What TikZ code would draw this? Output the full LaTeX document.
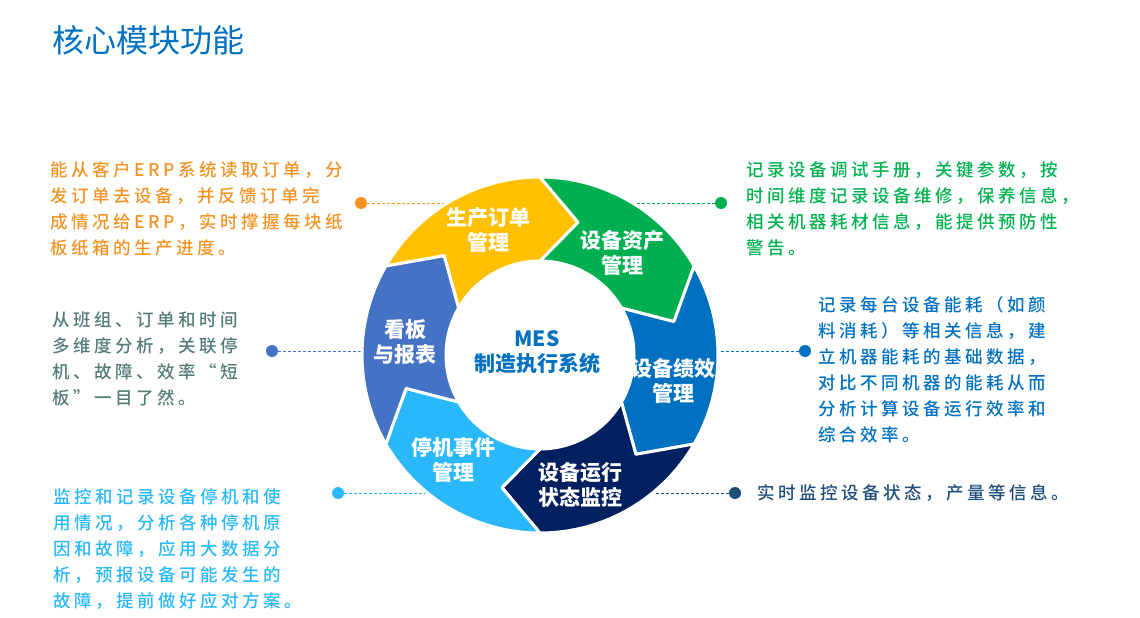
\documentclass[tikz,border=0pt]{standalone}
\usepackage{fontspec}
\setmainfont{Noto Sans CJK SC}
\newfontfamily\notefont[LetterSpace=20]{Noto Sans CJK SC Medium}
\definecolor{titlecol}{HTML}{0070C0}
\definecolor{ordcol}{HTML}{FFC000}
\definecolor{assetcol}{HTML}{00B050}
\definecolor{perfcol}{HTML}{0070C0}
\definecolor{runcol}{HTML}{002060}
\definecolor{stopcol}{HTML}{29B8FA}
\definecolor{boardcol}{HTML}{4472C4}
\definecolor{ordtext}{HTML}{F39325}
\definecolor{boardtext}{HTML}{547C76}
\definecolor{runtext}{HTML}{1F4E79}
\usetikzlibrary{backgrounds}

\begin{document}
\begin{tikzpicture}[
  x=1pt, y=1pt,
  every node/.style={inner sep=0pt},
  segment/.style={draw=white, line width=3pt, line join=round},
  seglabel/.style={font=\fontsize{21}{25}\selectfont\bfseries,
                   text=white, align=center},
  note/.style={font=\notefont\fontsize{17.5}{26}\selectfont,
               align=left, anchor=north west},
  dot/.style={circle, minimum size=12pt},
  leader/.style={dash pattern=on 3pt off 2pt, line width=0.8pt}
]
\useasboundingbox (0,0) rectangle (1140,-618);

%% ─── Title ──────────────────────────────────────────────────────────────────
\node[anchor=west, text=titlecol, font=\fontsize{32}{36}\selectfont]
      (title) at (52,-40) {核心模块功能};

%% ─── Ring of modules ────────────────────────────────────────────────────────
\coordinate (hub) at (540,-355);
\begin{scope}[shift={(hub)}]
  \filldraw[segment, fill=ordcol]   (150:178) arc[start angle=150, end angle=90, radius=178]
        -- (74:138) -- (90:94) arc[start angle=90, end angle=150, radius=94] -- (134:138) -- cycle;
  \filldraw[segment, fill=assetcol] (90:178) arc[start angle=90, end angle=30, radius=178]
        -- (14:138) -- (30:94) arc[start angle=30, end angle=90, radius=94] -- (74:138) -- cycle;
  \filldraw[segment, fill=perfcol]  (30:178) arc[start angle=30, end angle=-30, radius=178]
        -- (-46:138) -- (-30:94) arc[start angle=-30, end angle=30, radius=94] -- (14:138) -- cycle;
  \filldraw[segment, fill=runcol]   (-30:178) arc[start angle=-30, end angle=-90, radius=178]
        -- (-106:138) -- (-90:94) arc[start angle=-90, end angle=-30, radius=94] -- (-46:138) -- cycle;
  \filldraw[segment, fill=stopcol]  (-90:178) arc[start angle=-90, end angle=-150, radius=178]
        -- (-166:138) -- (-150:94) arc[start angle=-150, end angle=-90, radius=94] -- (-106:138) -- cycle;
  \filldraw[segment, fill=boardcol] (-150:178) arc[start angle=-150, end angle=-210, radius=178]
        -- (134:138) -- (150:94) arc[start angle=150, end angle=210, radius=94] -- (-166:138) -- cycle;

  % where the leaders meet the ring
  \coordinate (ordjoin)   at (-93,152);
  \coordinate (assetjoin) at (93,152);
  \coordinate (boardjoin) at (-178,4);
  \coordinate (perfjoin)  at (178,4);
  \coordinate (stopjoin)  at (-112,-138);
  \coordinate (runjoin)   at (112,-138);
\end{scope}

\node[seglabel] (ordlbl)   at (488,-229.5) {生产订单\\管理};
\node[seglabel] (assetlbl) at (622,-252.5) {设备资产\\管理};
\node[seglabel] (perflbl)  at (673,-380.5) {设备绩效\\管理};
\node[seglabel] (runlbl)   at (580,-485)   {设备运行\\状态监控};
\node[seglabel] (stoplbl)  at (453,-459.5) {停机事件\\管理};
\node[seglabel] (boardlbl) at (405,-342.5) {看板\\与报表};
\node[seglabel, text=titlecol] (hublbl) at (537,-352.5) {MES\\制造执行系统};

%% ─── Notes and leaders ──────────────────────────────────────────────────────
\node[dot, fill=ordtext]   (orddot)   at (361,-203) {};
\node[dot, fill=assetcol]  (assetdot) at (721,-203) {};
\node[dot, fill=boardcol]  (boarddot) at (272,-351) {};
\node[dot, fill=perfcol]   (perfdot)  at (805,-351) {};
\node[dot, fill=stopcol]   (stopdot)  at (338,-493) {};
\node[dot, fill=runtext]   (rundot)   at (735,-493) {};

\begin{scope}[on background layer]
  \draw[leader, ordtext]   (orddot)   -- (ordjoin);
  \draw[leader, assetcol]  (assetdot) -- (assetjoin);
  \draw[leader, boardcol]  (boarddot) -- (boardjoin);
  \draw[leader, perfcol]   (perfdot)  -- (perfjoin);
  \draw[leader, stopcol]   (stopdot)  -- (stopjoin);
  \draw[leader, runtext]   (rundot)   -- (runjoin);
\end{scope}

\node[note, text=ordtext] (ordnote) at (50,-161)
      {能从客户ERP系统读取订单，分\\发订单去设备，并反馈订单完\\成情况给ERP，实时撑握每块纸\\板纸箱的生产进度。};
\node[note, text=assetcol] (assetnote) at (746,-161)
      {记录设备调试手册，关键参数，按\\时间维度记录设备维修，保养信息，\\相关机器耗材信息，能提供预防性\\警告。};
\node[note, text=boardtext] (boardnote) at (52,-311)
      {从班组、订单和时间\\多维度分析，关联停\\机、故障、效率“短\\板”一目了然。};
\node[note, text=perfcol] (perfnote) at (818,-296)
      {记录每台设备能耗（如颜\\料消耗）等相关信息，建\\立机器能耗的基础数据，\\对比不同机器的能耗从而\\分析计算设备运行效率和\\综合效率。};
\node[note, text=runtext] (runnote) at (757,-484)
      {实时监控设备状态，产量等信息。};
\node[note, text=stopcol] (stopnote) at (53,-488)
      {监控和记录设备停机和使\\用情况，分析各种停机原\\因和故障，应用大数据分\\析，预报设备可能发生的\\故障，提前做好应对方案。};

\end{tikzpicture}
\end{document}
